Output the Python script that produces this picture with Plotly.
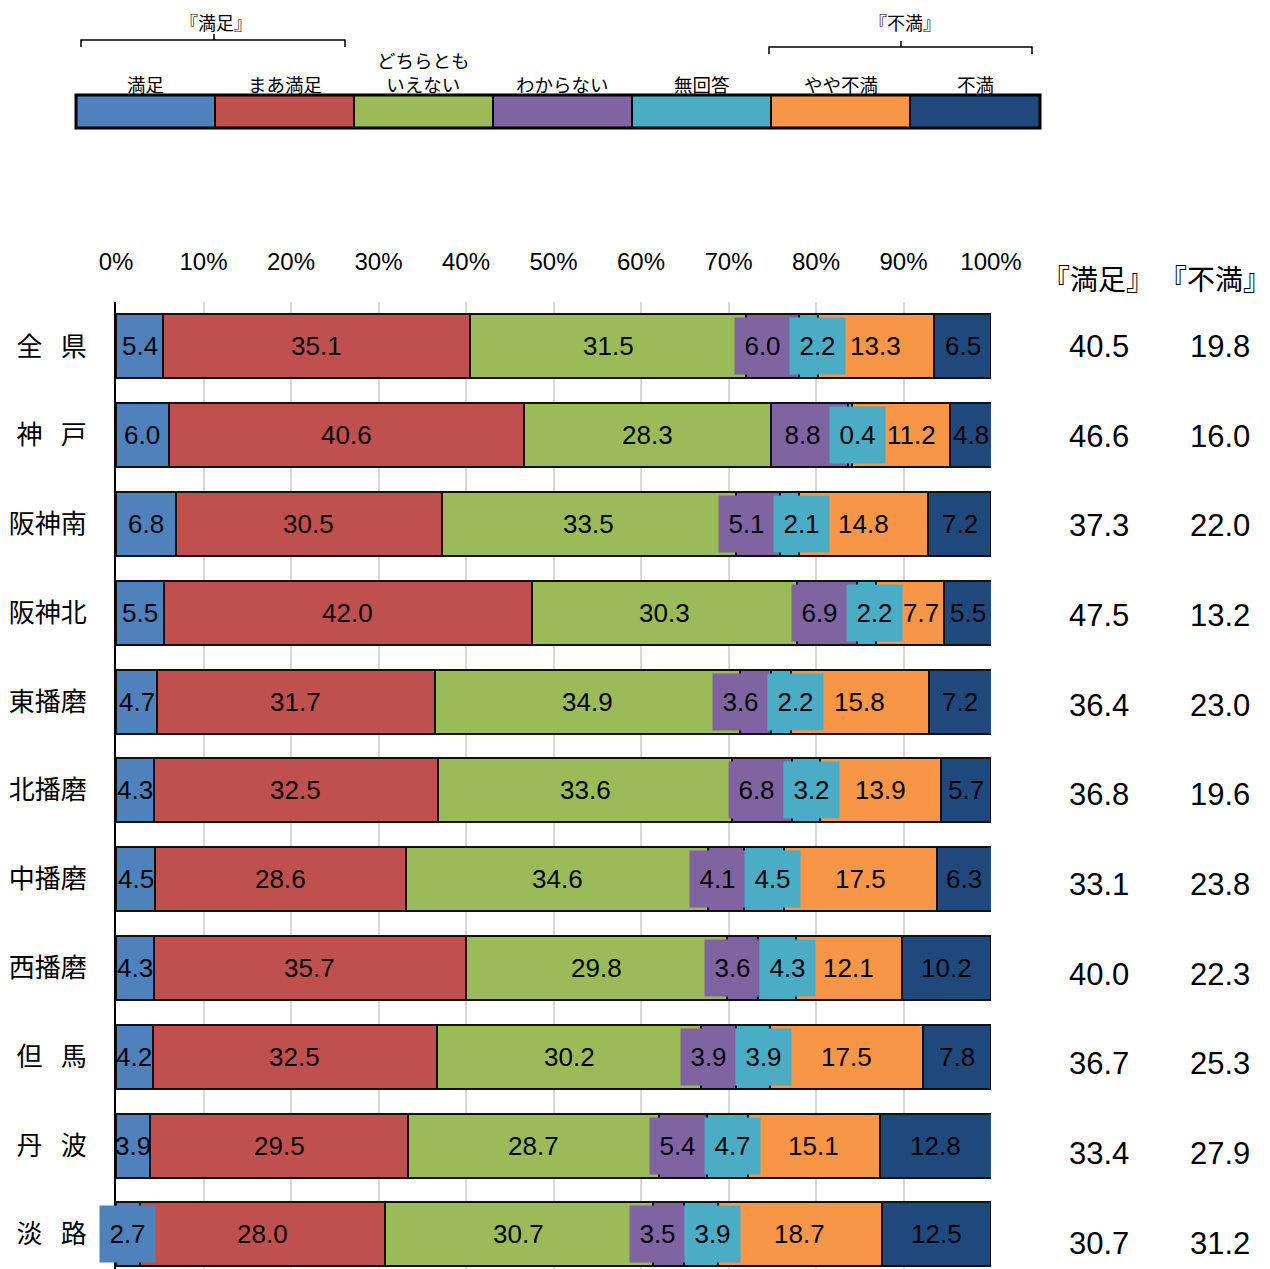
import plotly.graph_objects as go

# ---------------- data ----------------
regions = ["全\u2002\u2009県", "神\u2002\u2009戸", "阪神南", "阪神北", "東播磨", "北播磨", "中播磨", "西播磨", "但\u2002\u2009馬", "丹\u2002\u2009波", "淡\u2002\u2009路"]
series_names = ["満足", "まあ満足", "どちらとも<br>いえない", "わからない", "無回答", "やや不満", "不満"]
colors = ["#4F81BD", "#C0504D", "#9BBB59", "#8064A2", "#4BACC6", "#F79646", "#1F497D"]

manzoku = [5.4, 6.0, 6.8, 5.5, 4.7, 4.3, 4.5, 4.3, 4.2, 3.9, 2.7]
maa_manzoku = [35.1, 40.6, 30.5, 42.0, 31.7, 32.5, 28.6, 35.7, 32.5, 29.5, 28.0]
dochiratomo = [31.5, 28.3, 33.5, 30.3, 34.9, 33.6, 34.6, 29.8, 30.2, 28.7, 30.7]
wakaranai = [6.0, 8.8, 5.1, 6.9, 3.6, 6.8, 4.1, 3.6, 3.9, 5.4, 3.5]
mukaito = [2.2, 0.4, 2.1, 2.2, 2.2, 3.2, 4.5, 4.3, 3.9, 4.7, 3.9]
yaya_fuman = [13.3, 11.2, 14.8, 7.7, 15.8, 13.9, 17.5, 12.1, 17.5, 15.1, 18.7]
fuman = [6.5, 4.8, 7.2, 5.5, 7.2, 5.7, 6.3, 10.2, 7.8, 12.8, 12.5]

total_manzoku = [40.5, 46.6, 37.3, 47.5, 36.4, 36.8, 33.1, 40.0, 36.7, 33.4, 30.7]
total_fuman = [19.8, 16.0, 22.0, 13.2, 23.0, 19.6, 23.8, 22.3, 25.3, 27.9, 31.2]

xticks = [0, 10, 20, 30, 40, 50, 60, 70, 80, 90, 100]
group_labels = ["『満足』", "『不満』"]

series = [manzoku, maa_manzoku, dochiratomo, wakaranai, mukaito, yaya_fuman, fuman]

# ---------------- layout geometry (pixels) ----------------
W, H = 1270, 1269
L, R, T, B = 116, 991, 302, 1269
PW, PH = R - L, B - T
def px(x):
    return (x - L) / PW
def py(y):
    return (B - y) / PH

NUM_FONT = "Liberation Sans, Arial, sans-serif"
JP_FONT = "Noto Sans CJK JP, sans-serif"

fig = go.Figure()
for name, vals, col in zip(series_names, series, colors):
    fig.add_trace(go.Bar(
        y=regions, x=vals, orientation="h", name=name,
        marker=dict(color=col, line=dict(color="#111111", width=2)),
        width=0.72, showlegend=False, hoverinfo="skip"))

annotations = []
unit = 100 / PW  # % per pixel
box_w = 55 * unit
for i, reg in enumerate(regions):
    starts = []
    cum = 0
    for vals in series:
        starts.append(cum)
        cum += vals[i]
    centers = [starts[k] + series[k][i] / 2 for k in range(7)]
    # boxed labels for わからない / 無回答: push apart symmetrically if overlapping
    cp, cc = centers[3], centers[4]
    if cc - cp < box_w:
        d = (box_w - (cc - cp)) / 2
        cp -= d
        cc += d
    cyan_right = cc + box_w / 2
    for k, vals in enumerate(series):
        v = vals[i]
        txt = f"{v:.1f}"
        ann = dict(x=centers[k], y=reg, xref="x", yref="y", text=txt, showarrow=False,
                   xanchor="center", yanchor="middle",
                   font=dict(family=NUM_FONT, size=26, color="black"))
        if k == 3:
            ann.update(x=cp, bgcolor=colors[k], width=49, height=50, borderpad=3)
        elif k == 4:
            ann.update(x=cc, bgcolor=colors[k], width=49, height=50, borderpad=3)
        elif k == 5:
            half = len(txt) * 6.5 * unit
            ann.update(x=max(centers[k], cyan_right + half))
        elif k == 0 and v < 3:
            ann.update(bgcolor=colors[k], width=49, height=50, borderpad=3)
        annotations.append(ann)
    # right-hand totals
    annotations.append(dict(x=px(1099), y=reg, xref="paper", yref="y", yshift=-0.9 * i,
                            xanchor="center", yanchor="middle",
                            text=f"{total_manzoku[i]:.1f}", showarrow=False,
                            font=dict(family=NUM_FONT, size=31, color="black")))
    annotations.append(dict(x=px(1220), y=reg, xref="paper", yref="y", yshift=-0.9 * i,
                            xanchor="center", yanchor="middle",
                            text=f"{total_fuman[i]:.1f}", showarrow=False,
                            font=dict(family=NUM_FONT, size=31, color="black")))

# column headers
for lab, xc in zip(group_labels, [1098, 1215]):
    annotations.append(dict(x=px(xc), y=py(278), xref="paper", yref="paper", text=lab,
                            xanchor="center", yanchor="middle", borderpad=0,
                            showarrow=False, font=dict(family=JP_FONT, size=28, color="black")))

# ---------------- custom legend ----------------
shapes = []
leg_left, leg_right, leg_top, leg_bot = 76, 1040, 95, 128
seg_w = 139
edges = [leg_left + seg_w * j for j in range(7)] + [leg_right]
for j, (name, col) in enumerate(zip(series_names, colors)):
    x0, x1 = edges[j], edges[j + 1]
    shapes.append(dict(type="rect", xref="paper", yref="paper",
                       x0=px(x0), x1=px(x1), y0=py(leg_bot), y1=py(leg_top),
                       fillcolor=col, line=dict(color="black", width=2)))
    annotations.append(dict(x=px((x0 + x1) / 2), y=py(99), xref="paper", yref="paper",
                            text=name, showarrow=False, xanchor="center", yanchor="bottom",
                            font=dict(family=JP_FONT, size=18.5, color="black")))
shapes.append(dict(type="rect", xref="paper", yref="paper",
                   x0=px(leg_left), x1=px(leg_right), y0=py(leg_bot), y1=py(leg_top),
                   line=dict(color="black", width=3)))

def bracket(x0, x1, y, xm, text, tx):
    path = (f"M {px(x0)},{py(y + 7)} L {px(x0)},{py(y)} L {px(x1)},{py(y)} L {px(x1)},{py(y + 7)} "
            f"M {px(xm)},{py(y)} L {px(xm)},{py(y - 6)}")
    shapes.append(dict(type="path", xref="paper", yref="paper", path=path,
                       line=dict(color="black", width=1.5)))
    annotations.append(dict(x=px(tx), y=py(22), xref="paper", yref="paper", text=text,
                            xanchor="center", yanchor="middle",
                            showarrow=False, font=dict(family=JP_FONT, size=18, color="black")))

bracket(81, 345, 40, 214, group_labels[0], 216)
bracket(769, 1032, 47, 901, group_labels[1], 905)

fig.update_layout(
    width=W, height=H, barmode="stack",
    margin=dict(l=L, r=W - R, t=T, b=H - B, pad=0),
    plot_bgcolor="white", paper_bgcolor="white",
    annotations=annotations, shapes=shapes,
    xaxis=dict(range=[0, 100], side="top", tickvals=xticks,
               ticktext=[f"{v}%" for v in xticks],
               tickfont=dict(family=NUM_FONT, size=24, color="black"),
               showgrid=True, gridcolor="#d9d9d9", gridwidth=2,
               ticks="outside", ticklen=21, tickcolor="rgba(0,0,0,0)",
               zeroline=False, showline=False, fixedrange=True),
    yaxis=dict(type="category", categoryorder="array", categoryarray=regions,
               range=[10.39, -0.5], showline=True, linecolor="black", linewidth=2,
               ticks="outside", ticklen=22, tickcolor="rgba(0,0,0,0)",
               tickfont=dict(family=JP_FONT, size=26, color="black"),
               showgrid=False, zeroline=False, fixedrange=True),
)

fig.write_html("out.html", config={"displayModeBar": False},
               post_script="document.body.style.margin='0px';document.body.style.padding='0px';")
